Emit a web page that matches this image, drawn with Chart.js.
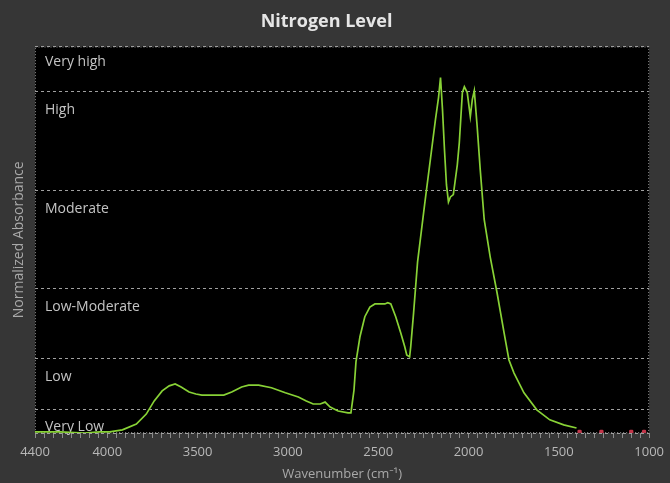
<!DOCTYPE html>
<html>
<head>
<meta charset="utf-8">
<script src="https://cdn.jsdelivr.net/npm/chart.js@4/dist/chart.umd.min.js"></script>
<style>
    html, body { margin: 0; padding: 0; background: #363636; }
    #spectrum { display: block; }
</style>
</head>
<body>
<canvas id="spectrum" width="670" height="483"></canvas>
<script>
const wavenumbers = [4400, 4262, 4125, 4042, 3987, 3916, 3839, 3784, 3740, 3696, 3657, 3624, 3591, 3547, 3509, 3476,
    3355, 3311, 3256, 3217, 3162, 3091, 3014, 2942, 2898, 2860, 2821, 2794, 2766, 2722, 2667, 2651,
    2634, 2623, 2601, 2574, 2546, 2518, 2463, 2447, 2430, 2403, 2375, 2353, 2342, 2326, 2320, 2304,
    2282, 2243, 2210, 2183, 2166, 2155, 2144, 2133, 2122, 2111, 2100, 2084, 2062, 2051, 2034, 2023,
    2007, 1990, 1979, 1968, 1952, 1935, 1913, 1880, 1842, 1803, 1776, 1748, 1693, 1622, 1550, 1473, 1402];
const absorbance = [0.003, 0.003, 0.000, 0.003, 0.003, 0.008, 0.023, 0.049, 0.083, 0.109, 0.122, 0.127, 0.119, 0.106, 0.101, 0.098,
    0.098, 0.106, 0.119, 0.124, 0.124, 0.117, 0.104, 0.093, 0.083, 0.075, 0.075, 0.080, 0.067, 0.057, 0.052, 0.052,
    0.111, 0.184, 0.249, 0.301, 0.326, 0.334, 0.334, 0.337, 0.334, 0.301, 0.259, 0.223, 0.202, 0.197, 0.223, 0.311,
    0.443, 0.591, 0.712, 0.811, 0.868, 0.920, 0.837, 0.733, 0.642, 0.598, 0.611, 0.617, 0.694, 0.751, 0.881, 0.896,
    0.881, 0.819, 0.863, 0.886, 0.793, 0.681, 0.552, 0.456, 0.363, 0.259, 0.189, 0.155, 0.104, 0.060, 0.034, 0.021, 0.013];

// small red marks near the baseline at the low end
const noiseWavenumbers = [1385, 1264, 1099, 1028];
const noiseAbsorbance = [0.003, 0.003, 0.003, 0.003];

// level boundaries (normalized absorbance) and the band names, bottom to top
const levelBounds = [0, 0.062, 0.192, 0.373, 0.627, 0.883, 1];
const levelNames = ["Very Low", "Low", "Low-Moderate", "Moderate", "High", "Very high"];
const xLabelTicks = [4400, 4000, 3500, 3000, 2500, 2000, 1500, 1000];

const FONT = "'Open Sans', 'Noto Sans', sans-serif";

const plotBackground = {
    id: "plotBackground",
    beforeDraw(chart) {
        const { ctx, chartArea: a } = chart;
        ctx.save();
        ctx.fillStyle = "#363636";
        ctx.fillRect(0, 0, chart.width, chart.height);
        ctx.fillStyle = "#000000";
        ctx.fillRect(a.left, a.top, a.right - a.left, a.bottom - a.top);
        ctx.restore();
    },
    beforeDatasetsDraw(chart) {
        const { ctx, chartArea: a, scales } = chart;
        ctx.save();
        // dotted frame round the plot
        ctx.strokeStyle = "#8a8a8a";
        ctx.lineWidth = 1;
        ctx.setLineDash([1, 2]);
        ctx.strokeRect(a.left + 0.5, a.top + 0.5, a.right - a.left - 1, a.bottom - a.top - 1);
        // band names
        ctx.setLineDash([]);
        ctx.fillStyle = "#c4c4c4";
        ctx.font = "14px " + FONT;
        ctx.textBaseline = "middle";
        ctx.textAlign = "left";
        levelNames.forEach((name, i) => {
            const top = scales.y.getPixelForValue(levelBounds[i + 1]);
            const off = i === levelNames.length - 1 ? 15 : 18;
            ctx.fillText(name, a.left + 10, top + off);
        });
        ctx.restore();
    }
};

new Chart(document.getElementById("spectrum"), {
    type: "scatter",
    data: {
        datasets: [{
            label: "Nitrogen",
            data: wavenumbers.map((w, i) => ({ x: w, y: absorbance[i] })),
            showLine: true,
            borderColor: "#88d236",
            borderWidth: 1.7,
            pointRadius: 0,
            tension: 0
        }, {
            label: "noise",
            data: noiseWavenumbers.map((w, i) => ({ x: w, y: noiseAbsorbance[i] })),
            showLine: false,
            pointStyle: "rectRounded",
            pointRadius: 2.5,
            backgroundColor: "#c2364a",
            borderColor: "#c2364a",
            borderWidth: 0
        }]
    },
    options: {
        responsive: false,
        animation: false,
        layout: { padding: { left: 0, right: 17, top: 0, bottom: 0 } },
        plugins: {
            legend: { display: false },
            tooltip: { enabled: false },
            title: {
                display: true,
                text: "Nitrogen Level",
                color: "#e6e6e6",
                font: { family: FONT, size: 18, weight: "bold" },
                padding: { top: 11, bottom: 14 }
            }
        },
        scales: {
            x: {
                type: "linear",
                reverse: true,
                min: 1000,
                max: 4400,
                afterFit(scale) { scale.height = 50; },
                ticks: {
                    stepSize: 50,
                    autoSkip: false,
                    maxRotation: 0,
                    maxTicksLimit: 200,
                    padding: 6,
                    color: "#b8b8b8",
                    font: { family: FONT, size: 13 },
                    callback: v => xLabelTicks.includes(v) ? String(v) : ""
                },
                afterBuildTicks(scale) {
                    const ticks = [];
                    for (let v = 4400; v >= 1000; v -= 50) ticks.push({ value: v });
                    scale.ticks = ticks;
                },
                grid: {
                    drawOnChartArea: false,
                    drawTicks: true,
                    tickLength: 5,
                    tickColor: "#8a8a8a",
                    color: "#8a8a8a"
                },
                border: { display: false },
                title: {
                    display: true,
                    text: "Wavenumber (cm⁻¹)",
                    color: "#a9a9a9",
                    font: { family: FONT, size: 13 },
                    padding: { top: 0, bottom: 1 }
                }
            },
            y: {
                min: 0,
                max: 1,
                afterFit(scale) { scale.width = 35; },
                afterBuildTicks(scale) {
                    scale.ticks = levelBounds.map(v => ({ value: v }));
                },
                ticks: { display: false },
                grid: {
                    drawTicks: false,
                    color: "#a0a0a0",
                    lineWidth: 1
                },
                border: { display: false, dash: [3, 3] },
                title: {
                    display: true,
                    text: "Normalized Absorbance",
                    color: "#a9a9a9",
                    font: { family: FONT, size: 14 },
                    padding: { top: 11, bottom: 0 }
                }
            }
        }
    },
    plugins: [plotBackground]
});
</script>
</body>
</html>
